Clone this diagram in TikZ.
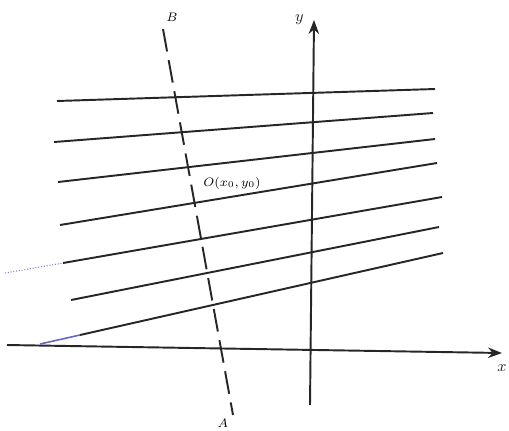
\documentclass[tikz,border=0pt]{standalone}
\usepackage{amsmath,amssymb}
\usepackage{tikz}
\usetikzlibrary{positioning,arrows.meta,calc}
\usepackage{xcolor}

\begin{document}
\begin{tikzpicture}[>=Stealth, x=0.02cm, y=-0.02cm,
    family/.style={line width=1.1pt, black!85},
    axis/.style={->, line width=1.1pt, black!85},
    faint/.style={line width=0.6pt, blue!60!black!50, densely dotted}]
    \useasboundingbox (0,0) rectangle (509,430);

    % Axes
    \draw[axis] (7,345) -- (502,353) node[below=3pt, font=\small] (xlab) {$x$};
    \draw[axis] (310,405) -- (314,20) node[pos=1, left=2pt, font=\small] (ylab) {$y$};

    % Family of parallel lines
    \foreach \xa/\ya/\xb/\yb in {57/101/435/89, 54/142/433/113, 58/182/435/139,
                                 60/225/437/163, 63/263/442/197, 71/300/439/227,
                                 80/335/443/253}
        \draw[family] (\xa,\ya) -- (\xb,\yb);

    % Faint extensions on the left
    \draw[faint] (5,273) -- (63,263);
    \draw[line width=0.9pt, blue!60!black!60] (40,344) -- (80,335);

    % Dashed line AB through O
    \draw[line width=1.1pt, black!85, dash pattern=on 13pt off 5pt] (163,29) -- (233,415);
    \node[font=\scriptsize] (lblB) at (172,17) {$B$};
    \node[font=\scriptsize] (lblA) at (223,423) {$A$};

    % Point label
    \node[font=\scriptsize] (lblO) at (232,183) {$O(x_0,y_0)$};
\end{tikzpicture}
\end{document}
